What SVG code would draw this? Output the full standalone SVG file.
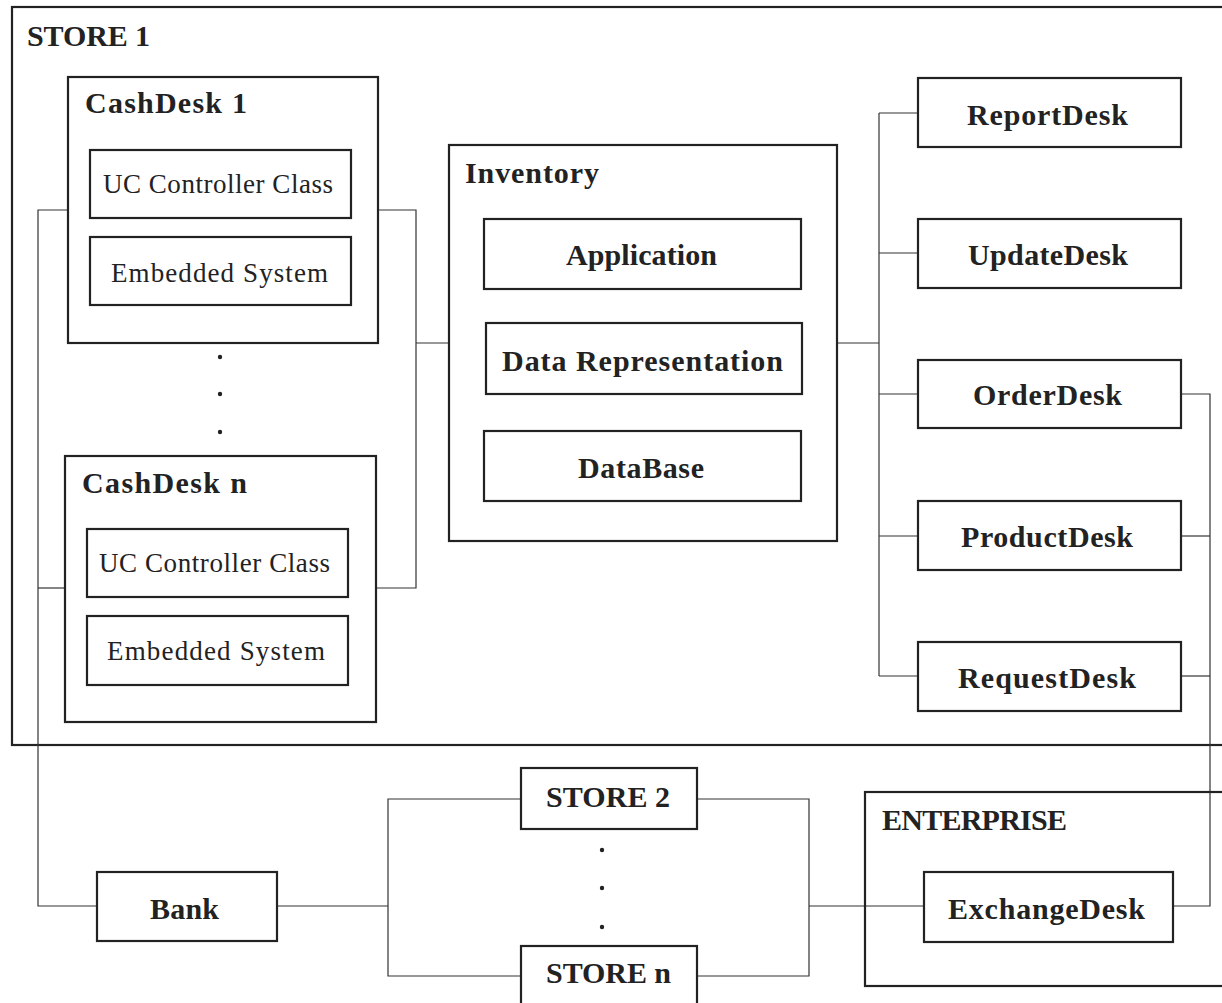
<svg xmlns="http://www.w3.org/2000/svg" width="1222" height="1003" viewBox="0 0 1222 1003">
<style>
.box{fill:none;stroke:#222;stroke-width:2.2}
.con{fill:none;stroke:#333;stroke-width:1.2}
.b{font-family:"Liberation Serif","Times New Roman",serif;font-weight:bold;font-size:30px;fill:#222}
.r{font-family:"Liberation Serif","Times New Roman",serif;font-size:27px;fill:#222}
.dot{fill:#222}
</style>
<rect width="1222" height="1003" fill="#fff"/>
<g id="store1"><rect class="box" x="12" y="7" width="1220" height="738"/><text class="b" x="27" y="46" textLength="123" lengthAdjust="spacing">STORE 1</text></g>
<g id="connectors">
<polyline class="con" points="68,210 38,210 38,906 97,906"/>
<line class="con" x1="38" y1="588" x2="65" y2="588"/>
<polyline class="con" points="378,210 416,210 416,588 376,588"/>
<line class="con" x1="416" y1="343" x2="449" y2="343"/>
<line class="con" x1="837" y1="343" x2="879" y2="343"/>
<line class="con" x1="879" y1="113" x2="879" y2="676"/>
<line class="con" x1="879" y1="113" x2="918" y2="113"/>
<line class="con" x1="879" y1="253" x2="918" y2="253"/>
<line class="con" x1="879" y1="394" x2="918" y2="394"/>
<line class="con" x1="879" y1="536" x2="918" y2="536"/>
<line class="con" x1="879" y1="676" x2="918" y2="676"/>
<polyline class="con" points="1181,394 1210,394 1210,906 1173,906"/>
<line class="con" x1="1181" y1="536" x2="1210" y2="536"/>
<line class="con" x1="1181" y1="676" x2="1210" y2="676"/>
<line class="con" x1="277" y1="906" x2="388" y2="906"/>
<polyline class="con" points="521,799 388,799 388,976 521,976"/>
<polyline class="con" points="697,799 809,799 809,976 697,976"/>
<line class="con" x1="809" y1="906" x2="924" y2="906"/>
</g>
<g id="cashdesk1"><rect class="box" x="68" y="77" width="310" height="266"/><text class="b" x="85" y="113" textLength="162" lengthAdjust="spacing">CashDesk 1</text></g>
<g id="uc1"><rect class="box" x="90" y="150" width="261" height="68"/><text class="r" x="103" y="193" textLength="230" lengthAdjust="spacing">UC Controller Class</text></g>
<g id="emb1"><rect class="box" x="90" y="237" width="261" height="68"/><text class="r" x="111" y="282" textLength="217" lengthAdjust="spacing">Embedded System</text></g>
<g id="dots1"><circle class="dot" cx="220" cy="357" r="2.2"/><circle class="dot" cx="220" cy="394" r="2.2"/><circle class="dot" cx="220" cy="432" r="2.2"/></g>
<g id="cashdeskn"><rect class="box" x="65" y="456" width="311" height="266"/><text class="b" x="82" y="493" textLength="165" lengthAdjust="spacing">CashDesk n</text></g>
<g id="ucn"><rect class="box" x="87" y="529" width="261" height="68"/><text class="r" x="99" y="572" textLength="231" lengthAdjust="spacing">UC Controller Class</text></g>
<g id="embn"><rect class="box" x="87" y="616" width="261" height="69"/><text class="r" x="107" y="660" textLength="218" lengthAdjust="spacing">Embedded System</text></g>
<g id="inventory"><rect class="box" x="449" y="145" width="388" height="396"/><text class="b" x="465" y="183" textLength="134" lengthAdjust="spacing">Inventory</text></g>
<g id="application"><rect class="box" x="484" y="219" width="317" height="70"/><text class="b" x="566" y="265" textLength="151" lengthAdjust="spacing">Application</text></g>
<g id="datarep"><rect class="box" x="486" y="323" width="316" height="71"/><text class="b" x="502" y="371" textLength="281" lengthAdjust="spacing">Data Representation</text></g>
<g id="database"><rect class="box" x="484" y="431" width="317" height="70"/><text class="b" x="578" y="478" textLength="126" lengthAdjust="spacing">DataBase</text></g>
<g id="reportdesk"><rect class="box" x="918" y="78" width="263" height="69"/><text class="b" x="967" y="125" textLength="161" lengthAdjust="spacing">ReportDesk</text></g>
<g id="updatedesk"><rect class="box" x="918" y="219" width="263" height="69"/><text class="b" x="968" y="265" textLength="160" lengthAdjust="spacing">UpdateDesk</text></g>
<g id="orderdesk"><rect class="box" x="918" y="360" width="263" height="68"/><text class="b" x="973" y="405" textLength="149" lengthAdjust="spacing">OrderDesk</text></g>
<g id="productdesk"><rect class="box" x="918" y="501" width="263" height="69"/><text class="b" x="961" y="547" textLength="172" lengthAdjust="spacing">ProductDesk</text></g>
<g id="requestdesk"><rect class="box" x="918" y="642" width="263" height="69"/><text class="b" x="958" y="688" textLength="178" lengthAdjust="spacing">RequestDesk</text></g>
<g id="bank"><rect class="box" x="97" y="872" width="180" height="69"/><text class="b" x="150" y="919" textLength="69" lengthAdjust="spacing">Bank</text></g>
<g id="store2"><rect class="box" x="521" y="768" width="176" height="61"/><text class="b" x="546" y="807" textLength="124" lengthAdjust="spacing">STORE 2</text></g>
<g id="dots2"><circle class="dot" cx="602" cy="850" r="2.2"/><circle class="dot" cx="602" cy="888" r="2.2"/><circle class="dot" cx="602" cy="927" r="2.2"/></g>
<g id="storen"><rect class="box" x="521" y="946" width="176" height="70"/><text class="b" x="546" y="983" textLength="125" lengthAdjust="spacing">STORE n</text></g>
<g id="enterprise"><rect class="box" x="865" y="792" width="370" height="194"/><text class="b" x="882" y="830" textLength="185" lengthAdjust="spacing">ENTERPRISE</text></g>
<g id="exchangedesk"><rect class="box" x="924" y="872" width="249" height="70"/><text class="b" x="948" y="919" textLength="197" lengthAdjust="spacing">ExchangeDesk</text></g>
</svg>
